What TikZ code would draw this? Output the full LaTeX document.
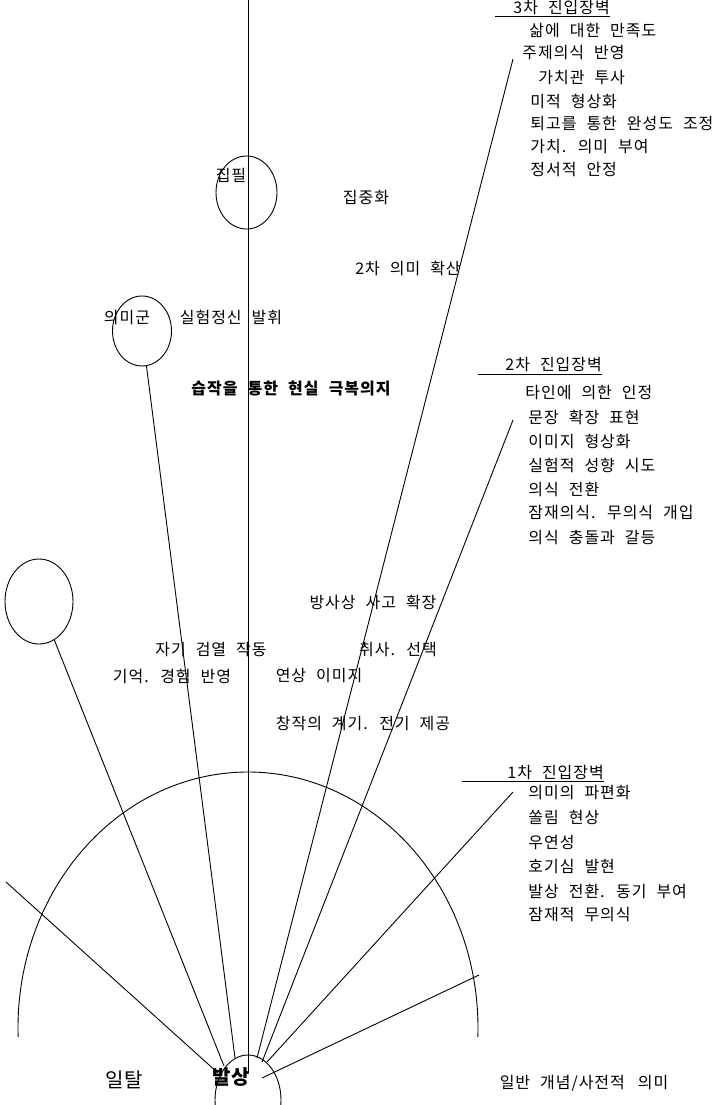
\documentclass[tikz,border=0pt]{standalone}
\usepackage{fontspec}
\newfontfamily\kr{Noto Sans CJK KR}[LetterSpace=6,WordSpace=2.2]
\usetikzlibrary{shapes.geometric}
\begin{document}
\begin{tikzpicture}[x=1pt,y=-1pt,line width=0.9pt,
  txt/.style={font=\kr\fontsize{16}{16}\selectfont,inner sep=0pt},
  lt/.style={txt,anchor=west},
  big/.style={font=\kr\fontsize{20}{20}\selectfont,inner sep=0pt},
  oval/.style={draw,ellipse,inner sep=0pt}]
\useasboundingbox (0,0) rectangle (718,1105);
\clip (0,0) rectangle (718,1105);
\fill[white] (0,0) rectangle (718,1105);

% ellipses
\node[oval,minimum width=68pt,minimum height=85pt] (e1) at (39,601.5) {};
\node[oval,minimum width=59pt,minimum height=70pt] (e2) at (142,331) {};
\node[oval,minimum width=61pt,minimum height=73pt] (e3) at (246.5,192.5) {};
\node[oval,minimum width=66pt,minimum height=90pt] (orig) at (248,1100) {};

% big arc
\draw (248,1028) ++(178:230 and 256) arc[start angle=178,end angle=362,x radius=230,y radius=256];

% ray coordinates
\coordinate (l1a) at (6,882);   \coordinate (l1b) at (218,1073);
\coordinate (l2b) at (224,1066);
\coordinate (l3b) at (235,1058);
\coordinate (va) at (248,0);    \coordinate (vb) at (248,1072);
\coordinate (aa) at (513,59);   \coordinate (ab) at (257,1058);
\coordinate (ba) at (513,420);  \coordinate (bb) at (262,1062);
\coordinate (ca) at (513,792);  \coordinate (cb) at (267,1062);
\coordinate (da) at (479,975);  \coordinate (db) at (262,1078);

\draw (l1a) -- (l1b);
\draw (e1) -- (l2b);
\draw (e2) -- (l3b);
\draw (va) -- (vb);
\draw (aa) -- (ab);
\draw (ba) -- (bb);
\draw (ca) -- (cb);
\draw (da) -- (db);

% 3차
\node[lt] (h3) at (513,8) {3차 진입장벽};
\coordinate (u3) at (495,16);
\draw (u3) -- (u3 -| h3.east);
\node[lt] (t31) at (529,31) {삶에 대한 만족도};
\node[lt] (t32) at (522,53) {주제의식 반영};
\node[lt] (t33) at (538,78) {가치관 투사};
\node[lt] (t34) at (530,101) {미적 형상화};
\node[lt] (t35) at (530,124) {퇴고를 통한 완성도 조정};
\node[lt] (t36) at (530,147) {가치. 의미 부여};
\node[lt] (t37) at (530,170) {정서적 안정};

% 2차
\node[lt] (h2) at (505,365) {2차 진입장벽};
\coordinate (u2) at (478,374);
\draw (u2) -- (u2 -| h2.east);
\node[lt] (t21) at (525,393) {타인에 의한 인정};
\node[lt] (t22) at (528,417) {문장 확장 표현};
\node[lt] (t23) at (528,441) {이미지 형상화};
\node[lt] (t24) at (528,465) {실험적 성향 시도};
\node[lt] (t25) at (528,489) {의식 전환};
\node[lt] (t26) at (528,513) {잠재의식. 무의식 개입};
\node[lt] (t27) at (528,537) {의식 충돌과 갈등};

% 1차
\node[lt] (h1) at (507,772) {1차 진입장벽};
\coordinate (u1) at (462,781);
\draw (u1) -- (u1 -| h1.east);
\node[lt] (t11) at (528,793) {의미의 파편화};
\node[lt] (t12) at (528,817) {쏠림 현상};
\node[lt] (t13) at (528,842) {우연성};
\node[lt] (t14) at (528,866) {호기심 발현};
\node[lt] (t15) at (528,891) {발상 전환. 동기 부여};
\node[lt] (t16) at (528,915) {잠재적 무의식};

% inner labels
\node[txt] (n1) at (231,175) {집필};
\node[txt] (n2) at (366,198) {집중화};
\node[txt] (n3) at (408,268) {2차 의미 확산};
\node[txt] (n4) at (127,318) {의미군};
\node[txt] (n5) at (231,317) {실험정신 발휘};
\node[txt,font=\kr\fontsize{16}{16}\selectfont\bfseries] (n6) at (291,388) {습작을 통한 현실 극복의지};
\node[txt] (n7) at (373,602) {방사상 사고 확장};
\node[txt] (n8) at (211,650) {자기 검열 작동};
\node[txt] (n9) at (398,650) {취사. 선택};
\node[txt] (n10) at (172,676) {기억. 경험 반영};
\node[txt] (n11) at (319,676) {연상 이미지};
\node[txt] (n12) at (363,723) {창작의 계기. 전기 제공};

% bottom
\node[big] (b1) at (124,1080) {일탈};
\node[big,font=\kr\fontsize{20}{20}\selectfont\bfseries] (b2) at (231,1077) {발상};
\node[txt] (b3) at (584,1083) {일반 개념/사전적\hspace{3pt} 의미};
\end{tikzpicture}
\end{document}
